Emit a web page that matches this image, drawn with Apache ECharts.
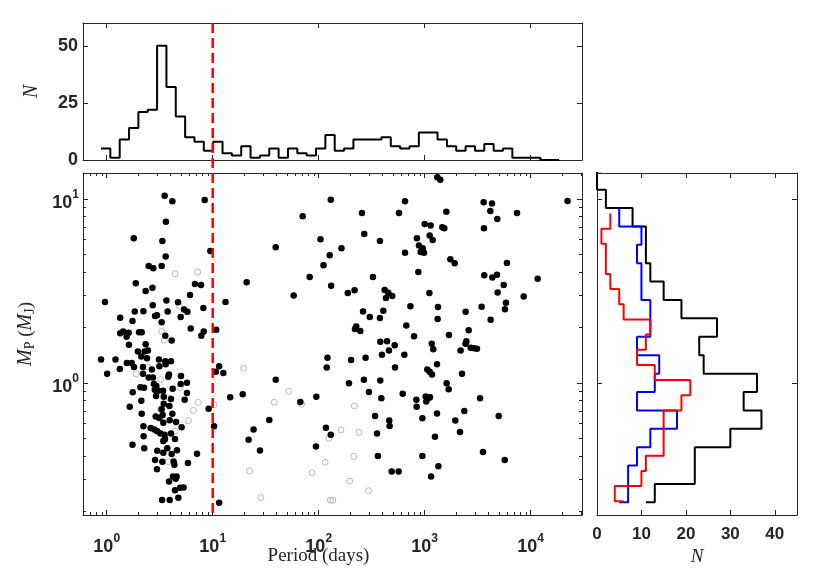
<!DOCTYPE html>
<html>
<head>
<meta charset="utf-8">
<script src="https://cdn.jsdelivr.net/npm/echarts@6/dist/echarts.min.js"></script>
<style>
  html, body { margin: 0; padding: 0; background: #fff; }
  #chart { width: 830px; height: 573px; }
</style>
</head>
<body>
<div id="chart"></div>
<script>
// ---- data ----
// top histogram: period bin edges (days) and counts per bin
var periodEdges = [0.883, 1.082, 1.326, 1.624, 1.990, 2.438, 2.987, 3.660, 4.484, 5.494,
  6.730, 8.246, 10.10, 12.38, 15.16, 18.58, 22.76, 27.89, 34.17, 41.86,
  51.29, 62.84, 76.99, 94.32, 115.6, 141.6, 173.5, 212.6, 260.4, 319.1,
  390.8, 478.9, 586.7, 718.8, 880.6, 1079, 1322, 1620, 1984, 2431,
  2979, 3649, 4471, 5478, 6711, 8222, 10070, 12340, 15120, 18530];
var periodCounts = [5, 1, 9, 14, 21, 22, 50, 32, 19, 10,
  8, 4, 8, 3, 2, 6, 1, 2, 5, 1,
  5, 3, 2, 5, 11, 4, 5, 9, 9, 9,
  10, 6, 5, 6, 12, 12, 9, 6, 4, 6,
  4, 7, 4, 5, 1, 1, 1, 0, 0];

// scatter: filled points (period in days, mass in MJ)
var filledPeriod = [
  3.52, 4.16, 8.40, 3.62, 1.80, 3.35, 9.50, 3.60, 2.49, 2.75, 3.30, 1.88, 2.70, 2.33, 6.81, 7.76, 6.11, 0.964, 3.66, 4.71,
  2.72, 1.84, 2.22, 3.76, 5.36, 5.77, 8.16, 2.86, 2.98, 4.99, 1.34, 1.75, 3.30, 13.2, 6.20, 10.8, 8.22, 7.81, 1.34, 1.43,
  1.54, 1.61, 2.02, 2.14, 3.57, 4.10, 1.62, 2.33, 20.9, 39.3, 58.1, 70.6, 82.2, 104, 111, 127, 131, 130,
  1315, 1403, 652, 256, 572, 1600, 1000, 1138, 1466, 1531, 269, 378, 164, 845, 1114, 1189, 883, 957, 916, 985,
  652, 1746, 1919, 871, 325, 188, 218, 419, 454, 431, 495, 1107, 733, 1334, 262, 303, 378, 407, 1324, 671,
  226, 220, 247, 793, 1694, 381, 441, 521, 1164, 2432, 2600, 2472, 2432, 3597, 4315, 4159, 4842, 7430, 3622, 5970,
  3648, 4345, 4808, 5560, 4874, 11640, 8590, 5845, 5715, 3443, 4188, 22280,
  1.97, 2.28, 2.45, 2.12, 2.40, 0.884, 1.21, 1.33, 1.01, 1.55, 1.72, 1.81, 2.20, 2.67, 3.11, 3.57, 4.04, 3.14, 3.60, 2.20,
  2.49, 2.73, 3.87, 3.81, 5.02, 5.72, 4.99, 2.08, 2.25, 2.79, 2.94, 2.84, 3.07, 3.40, 4.19, 1.76, 5.72, 2.92, 3.45, 4.04,
  5.44, 2.12, 1.65, 3.45, 3.90, 3.30, 3.37, 4.16, 2.14, 2.90, 3.14, 3.42, 3.93, 4.51, 2.22, 2.60, 2.81, 3.00, 3.21, 3.52,
  4.04, 5.09, 2.23, 3.55, 3.42, 4.41, 1.75, 2.26, 3.00, 3.73, 3.42, 4.10, 4.60, 7.11, 2.86, 3.35, 4.28, 4.35, 5.84, 2.98,
  4.22, 4.57, 4.48, 3.87, 4.41, 4.92, 5.32, 4.74, 3.33, 3.93, 9.16, 10.7, 11.5, 12.6, 10.3, 11.5, 14.6, 19.2, 39.3, 67.1,
  95.0, 34.2, 24.3, 21.8, 27.9, 94.2, 117, 130, 121, 119,
  460, 1205, 2183, 2716, 2917, 3112, 395, 643, 525, 202, 277, 193, 267, 381, 298, 390, 620, 1059, 1114, 1172,
  1306, 2249, 1611, 1683, 834, 840, 1021, 1089, 1035, 1122, 3327, 340, 463, 467, 355, 951, 1306, 1945, 2366, 2153,
  4989, 1250, 3548, 5689, 362, 951, 1346, 488, 568, 1148];
var filledMass = [
  10.4, 9.69, 9.85, 7.51, 6.10, 5.90, 5.20, 4.85, 4.31, 4.19, 4.31, 3.47, 3.28, 3.15, 3.44, 3.40, 3.00, 2.75, 2.80, 2.74,
  2.64, 2.44, 2.45, 2.44, 2.50, 2.43, 2.55, 2.31, 2.33, 2.28, 2.26, 2.17, 2.13, 2.75, 1.97, 1.94, 1.90, 1.80, 1.86, 1.90,
  1.78, 1.87, 1.88, 1.88, 1.80, 1.70, 1.61, 1.62, 3.52, 5.45, 2.98, 8.03, 3.76, 6.02, 4.36, 4.93, 3.37, 9.89,
  13.1, 12.7, 9.69, 8.38, 8.38, 8.51, 7.30, 7.15, 7.00, 6.91, 6.44, 5.90, 5.38, 6.10, 6.31, 5.97, 5.58, 5.38, 5.14, 5.09,
  5.09, 4.69, 4.46, 4.00, 3.76, 3.08, 3.18, 3.19, 3.09, 2.89, 2.96, 3.08, 2.61, 2.58, 2.44, 2.28, 2.25, 2.46, 2.22, 2.05,
  2.02, 1.96, 1.91, 1.79, 1.82, 1.67, 1.68, 1.60, 1.63, 2.43, 1.93, 1.68, 1.63, 9.59, 9.44, 8.59, 7.76, 8.38, 6.91, 4.48,
  3.84, 3.74, 3.87, 3.40, 3.10, 3.68, 2.94, 2.72, 2.51, 2.59, 2.20, 9.73,
  1.48, 1.48, 1.50, 1.39, 1.36, 1.34, 1.34, 1.19, 1.12, 1.28, 1.28, 1.22, 1.22, 1.18, 1.34, 1.31, 1.31, 1.23, 1.26, 1.12,
  1.07, 1.07, 1.11, 1.08, 1.09, 1.00, 0.985, 0.946, 0.941, 0.985, 0.961, 0.918, 0.906, 0.906, 0.929, 0.888, 0.881, 0.848, 0.841, 0.817,
  0.810, 0.800, 0.741, 0.770, 0.748, 0.718, 0.668, 0.679, 0.679, 0.655, 0.643, 0.607, 0.625, 0.612, 0.580, 0.568, 0.558, 0.545, 0.531, 0.522,
  0.531, 0.573, 0.512, 0.495, 0.483, 0.495, 0.461, 0.441, 0.427, 0.441, 0.417, 0.410, 0.430, 0.412, 0.381, 0.372, 0.373, 0.359, 0.367, 0.339,
  0.310, 0.310, 0.301, 0.291, 0.261, 0.269, 0.270, 0.237, 0.231, 0.231, 0.723, 1.15, 1.23, 1.13, 0.580, 0.223, 0.834, 0.866, 1.04, 0.787,
  0.841, 0.628, 0.558, 0.491, 0.428, 0.450, 0.570, 0.522, 1.37, 1.21,
  1.50, 1.52, 1.50, 1.55, 1.54, 1.53, 1.42, 1.42, 1.21, 1.33, 1.37, 0.993, 1.04, 1.03, 0.891, 0.824, 0.873, 1.18, 1.15, 1.11,
  1.26, 1.12, 0.993, 0.921, 0.810, 0.741, 0.843, 0.826, 0.792, 0.834, 0.824, 0.660, 0.623, 0.582, 0.531, 0.641, 0.682, 0.623, 0.703, 0.541,
  0.660, 0.509, 0.421, 0.381, 0.400, 0.400, 0.352, 0.330, 0.330, 0.310];

// scatter: open grey points
var openPeriod = [4.41, 7.21, 4.84, 3.30, 3.50, 2.44, 1.90, 3.23, 4.95, 3.90, 7.31, 6.56, 3.21, 5.89, 4.41, 10.3, 19.6,
  52.1, 38.1, 69.0, 125, 22.3, 28.4, 86.5, 115, 129, 3.82, 217, 162, 240, 214, 196, 296, 136];
var openMass = [3.92, 4.00, 2.61, 1.90, 1.71, 1.22, 1.12, 1.04, 0.941, 0.824, 0.783, 0.708, 0.718, 0.623, 0.545, 0.760, 1.20,
  0.899, 0.783, 0.767, 0.499, 0.332, 0.238, 0.324, 0.370, 0.230, 0.372, 0.748, 0.554, 0.539, 0.398, 0.292, 0.259, 0.230];

// right histograms: mass bin edges (MJ, from the top down) and counts
var massEdges = [17.8, 14.1, 11.2, 8.91, 7.08, 5.62, 4.47, 3.55, 2.82, 2.24,
  1.78, 1.41, 1.12, 0.891, 0.708, 0.562, 0.447, 0.355, 0.282, 0.224];
var blackCounts = [1, 0, 2, 8, 11, 11, 12, 15, 19, 27, 23, 24, 36, 33, 37, 30, 22, 22, 13, 11];
var blueEdges = massEdges.slice(3);
var blueCounts = [5, 10, 9, 10, 10, 12, 12, 9, 14, 13, 9, 18, 12, 9, 7, 7, 5];
var redEdges = [8.32, 6.88, 5.69, 4.71, 3.90, 3.23, 2.67, 2.21, 1.83, 1.51,
  1.25, 1.035, 0.857, 0.708, 0.586, 0.485, 0.401, 0.332, 0.275, 0.227];
var redCounts = [3, 1, 2, 2, 3, 5, 6, 12, 11, 9, 13, 21, 19, 15, 15, 15, 11, 10, 4, 6];

// axes
var periodTicks = [1, 10, 100, 1000, 10000];
var massTicks = [1, 10];
var countTicks = [0, 25, 50];
var nTicks = [0, 10, 20, 30, 40];
var periodCut = 10;
var pMin = 0.5975, pMax = 30480;
var mMin = 0.1912, mMax = 13.81;

// minor ticks for log axes
function minorTicks(lo, hi) {
  var out = [];
  for (var d = 0.1; d <= 10000; d *= 10) {
    for (var k = 2; k <= 9; k++) {
      var v = +(k * d).toPrecision(3);
      if (v >= lo && v <= hi) out.push(v);
    }
  }
  return out;
}

// step outlines
function hStairs(edges, counts) {
  var pts = [];
  for (var i = 0; i < counts.length; i++) {
    pts.push([edges[i], counts[i]]);
    pts.push([edges[i + 1], counts[i]]);
  }
  return pts;
}
function vStairs(edges, counts) {
  var pts = [];
  for (var i = 0; i < edges.length - 1; i++) {
    pts.push([counts[i], edges[i]]);
    pts.push([counts[i], edges[i + 1]]);
  }
  pts.push([counts[counts.length - 1], edges[edges.length - 1]]);
  return pts;
}
function zip(a, b) {
  return a.map(function (v, i) { return [v, b[i]]; });
}

var ink = '#262626';
function boldFont(size) {
  return { fontFamily: 'Liberation Sans', fontWeight: 'bold', fontSize: size, color: ink };
}
var powRich = {
  b: boldFont(18),
  s: Object.assign(boldFont(12), { padding: [0, 0, 16, 0] })
};
function powLabel(v) {
  return '{b|10}{s|' + Math.round(Math.log10(v)) + '}';
}

// one axis helper: frame line + inside ticks, optional labels
function ax(o) {
  var a = {
    type: o.type || 'value',
    gridIndex: o.grid,
    position: o.pos,
    min: o.min, max: o.max,
    axisLine: { show: o.line !== false, onZero: false, lineStyle: { color: ink, width: 1 } },
    axisTick: { show: true, inside: true, length: o.len || 5, customValues: o.ticks, lineStyle: { color: ink, width: 1 } },
    axisLabel: { show: false },
    splitLine: { show: false }
  };
  if (o.labels) {
    a.axisLabel = o.pow ?
      { show: true, customValues: o.ticks, formatter: powLabel, rich: powRich, margin: o.margin, padding: o.labelPad || 0 } :
      Object.assign({ show: true, customValues: o.ticks, margin: o.margin }, boldFont(o.fontSize || 17));
  }
  if (o.name) {
    a.name = o.name;
    a.nameLocation = 'middle';
    a.nameGap = o.nameGap;
    a.nameTextStyle = o.nameStyle;
    if (o.noMove) a.nameMoveOverlap = false;
  }
  return a;
}

var serif = { fontFamily: 'Liberation Serif', fontSize: 19, color: ink };

var chart = echarts.init(document.getElementById('chart'));
var minorP = minorTicks(pMin, pMax);
var minorM = minorTicks(mMin, mMax);

var option = {
  animation: false,
  backgroundColor: '#fff',
  grid: [
    { left: 83, top: 23, width: 499, height: 137, outerBoundsMode: 'none' },
    { left: 83, top: 173, width: 499, height: 342, outerBoundsMode: 'none' },
    { left: 597, top: 173, width: 200, height: 342, outerBoundsMode: 'none' }
  ],
  xAxis: [
    ax({ grid: 0, pos: 'bottom', type: 'log', min: pMin, max: pMax, ticks: periodTicks }),
    ax({ grid: 0, pos: 'top', type: 'log', min: pMin, max: pMax, ticks: periodTicks }),
    ax({ grid: 1, pos: 'bottom', type: 'log', min: pMin, max: pMax, ticks: periodTicks, labels: true, pow: true, margin: 18,
      name: 'Period (days)', nameGap: 32, noMove: true,
      nameStyle: Object.assign({ padding: [0, 28, 0, 0], verticalAlign: 'top' }, serif) }),
    ax({ grid: 1, pos: 'bottom', type: 'log', min: pMin, max: pMax, ticks: minorP, len: 3, line: false }),
    ax({ grid: 1, pos: 'top', type: 'log', min: pMin, max: pMax, ticks: periodTicks }),
    ax({ grid: 1, pos: 'top', type: 'log', min: pMin, max: pMax, ticks: minorP, len: 3, line: false }),
    ax({ grid: 2, pos: 'bottom', min: 0, max: 45, ticks: nTicks, labels: true, margin: 11, fontSize: 17,
      name: 'N', nameGap: 30, nameStyle: Object.assign({ fontStyle: 'italic' }, serif) }),
    ax({ grid: 2, pos: 'top', min: 0, max: 45, ticks: nTicks })
  ],
  yAxis: [
    ax({ grid: 0, pos: 'left', min: 0, max: 60, ticks: countTicks, labels: true, margin: 5, fontSize: 18,
      name: 'N', nameGap: 41, nameStyle: Object.assign({ fontStyle: 'italic' }, serif, { fontSize: 20 }) }),
    ax({ grid: 0, pos: 'right', min: 0, max: 60, ticks: countTicks }),
    ax({ grid: 1, pos: 'left', type: 'log', min: mMin, max: mMax, ticks: massTicks, labels: true, pow: true, margin: 4,
      labelPad: [8, 0, 0, 0],
      name: '{i|M}{sub|P} ({i|M}{sub|J})', nameGap: 46,
      nameStyle: Object.assign({
        padding: [0, 0, 0, 20],
        rich: {
          i: { fontFamily: 'Liberation Serif', fontStyle: 'italic', fontSize: 20, color: ink },
          sub: { fontFamily: 'Liberation Serif', fontSize: 14, color: ink, padding: [8, 0, 0, 0] }
        }
      }, serif) }),
    ax({ grid: 1, pos: 'left', type: 'log', min: mMin, max: mMax, ticks: minorM, len: 3, line: false }),
    ax({ grid: 1, pos: 'right', type: 'log', min: mMin, max: mMax, ticks: massTicks }),
    ax({ grid: 1, pos: 'right', type: 'log', min: mMin, max: mMax, ticks: minorM, len: 3, line: false }),
    ax({ grid: 2, pos: 'left', type: 'log', min: mMin, max: mMax, ticks: massTicks }),
    ax({ grid: 2, pos: 'right', type: 'log', min: mMin, max: mMax, ticks: massTicks })
  ],
  series: [
    {
      name: 'period histogram', type: 'line', xAxisIndex: 0, yAxisIndex: 0,
      data: hStairs(periodEdges, periodCounts),
      showSymbol: false, lineStyle: { color: '#000', width: 2 }, silent: true
    },
    {
      name: 'open', type: 'scatter', xAxisIndex: 2, yAxisIndex: 2,
      data: zip(openPeriod, openMass), symbol: 'circle', symbolSize: 6,
      itemStyle: { color: 'rgba(0,0,0,0)', borderColor: '#b8b8b8', borderWidth: 1, opacity: 1 }
    },
    {
      name: 'filled', type: 'scatter', xAxisIndex: 2, yAxisIndex: 2,
      data: zip(filledPeriod, filledMass), symbol: 'circle', symbolSize: 6.5,
      itemStyle: { color: '#000', opacity: 1 }
    },
    {
      name: 'all', type: 'line', xAxisIndex: 6, yAxisIndex: 6,
      data: vStairs(massEdges, blackCounts),
      showSymbol: false, lineStyle: { color: '#000', width: 2 }
    },
    {
      name: 'blue', type: 'line', xAxisIndex: 6, yAxisIndex: 6,
      data: vStairs(blueEdges, blueCounts),
      showSymbol: false, lineStyle: { color: '#0000ff', width: 2 }
    },
    {
      name: 'red', type: 'line', xAxisIndex: 6, yAxisIndex: 6,
      data: vStairs(redEdges, redCounts),
      showSymbol: false, lineStyle: { color: '#ff0000', width: 2 }
    }
  ]
};
chart.setOption(option);

// dashed cut at P = 10 d running through both left panels
var xCut = chart.convertToPixel({ xAxisIndex: 2 }, periodCut);
var yTop = chart.convertToPixel({ yAxisIndex: 0 }, 60);
var yBot = chart.convertToPixel({ yAxisIndex: 2 }, mMin);
chart.setOption({
  graphic: [{
    type: 'line', z: 100,
    shape: { x1: xCut, y1: yTop, x2: xCut, y2: yBot },
    style: { stroke: '#ff0000', lineWidth: 2.5, lineDash: [10, 5] }
  }]
});
</script>
</body>
</html>
